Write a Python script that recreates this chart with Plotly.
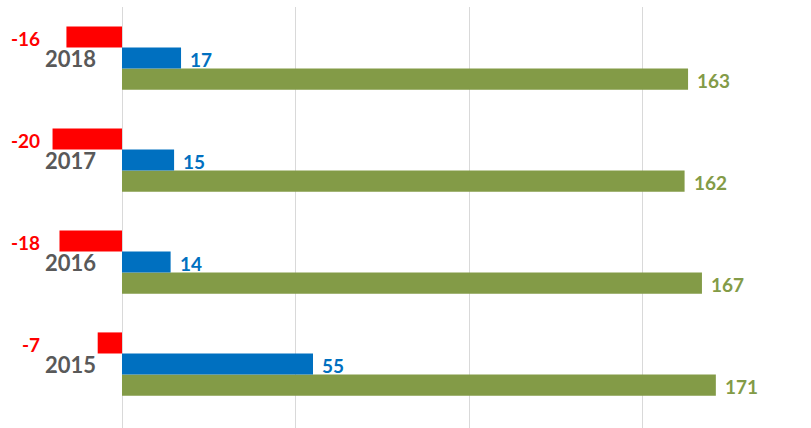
import plotly.graph_objects as go

years = ["2015", "2016", "2017", "2018"]
red_vals = [-7, -18, -20, -16]
blue_vals = [55, 14, 15, 17]
green_vals = [171, 167, 162, 163]

RED = "#FF0000"
BLUE = "#0070C0"
GREEN = "#839B47"
GRAY = "#595959"
FONT = "Lato"

fig = go.Figure()
# trace order: first trace sits lowest within each group
fig.add_trace(go.Bar(y=years, x=green_vals, orientation="h", marker=dict(color=GREEN, line=dict(width=0)), name="green"))
fig.add_trace(go.Bar(y=years, x=blue_vals, orientation="h", marker=dict(color=BLUE, line=dict(width=0)), name="blue"))
fig.add_trace(go.Bar(y=years, x=red_vals, orientation="h", marker=dict(color=RED, line=dict(width=0)), name="red"))

ann = []
for i, (y, r, b, g) in enumerate(zip(years, red_vals, blue_vals, green_vals)):
    ann.append(dict(x=0, y=i, xref="x", yref="y", text=f"<b>{y}</b>", showarrow=False,
                    xanchor="right", yanchor="middle", xshift=-24, yshift=0,
                    font=dict(family=FONT, size=22, color=GRAY)))
    ann.append(dict(x=0, y=i, xref="x", yref="y", text=f"<b>{r}</b>", showarrow=False,
                    xanchor="right", yanchor="middle", xshift=-80, yshift=20,
                    font=dict(family=FONT, size=19, color=RED)))
    ann.append(dict(x=b, y=i, xref="x", yref="y", text=f"<b>{b}</b>", showarrow=False,
                    xanchor="left", yanchor="middle", xshift=7, yshift=-1,
                    font=dict(family=FONT, size=19, color=BLUE)))
    ann.append(dict(x=g, y=i, xref="x", yref="y", text=f"<b>{g}</b>", showarrow=False,
                    xanchor="left", yanchor="middle", xshift=7, yshift=-22,
                    font=dict(family=FONT, size=19, color=GREEN)))

fig.update_layout(
    width=811, height=428,
    margin=dict(l=0, r=0, t=7, b=0),
    paper_bgcolor="white", plot_bgcolor="white",
    barmode="group", bargap=0.38, bargroupgap=0,
    showlegend=False,
    annotations=ann,
    xaxis=dict(range=[-35.13, 198.4], tickvals=[0, 50, 100, 150], showticklabels=False,
               showgrid=True, gridcolor="#D9D9D9", gridwidth=1,
               zeroline=True, zerolinecolor="#D9D9D9", zerolinewidth=1, fixedrange=True),
    yaxis=dict(type="category", categoryorder="array", categoryarray=years,
               range=[-0.627, 3.5], showticklabels=False, showgrid=False, zeroline=False),
)

fig.write_html("out.html", config={"displayModeBar": False},
               post_script="document.body.style.margin='0';")
